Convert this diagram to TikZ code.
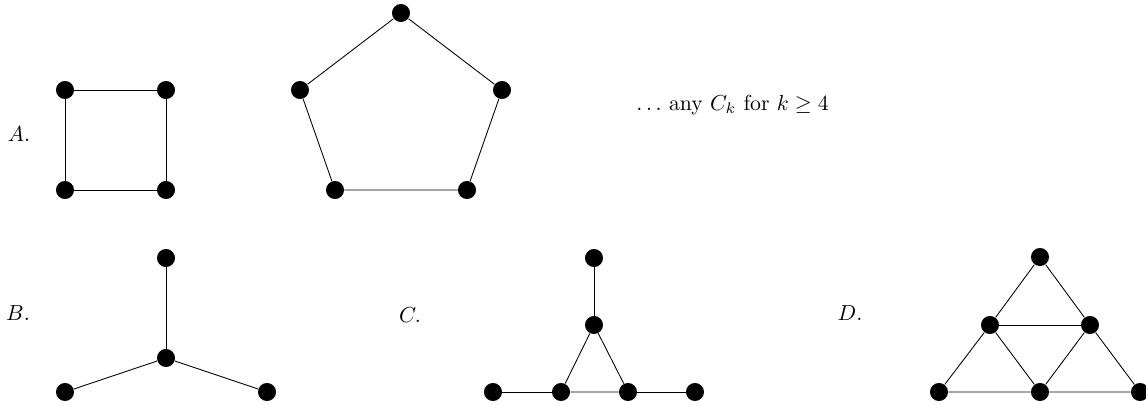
\documentclass[tikz,border=0pt]{standalone}
\tikzset{
  vtx/.style={circle,fill=black,inner sep=0pt,minimum size=8.3pt},
  lbl/.style={inner sep=0pt}
}
\begin{document}
\begin{tikzpicture}[x=0.46pt,y=-0.46pt]
\useasboundingbox (0,0) rectangle (1146,404);

% A: square and pentagon
\node[lbl] (la) at (19,134) {$A.$};
\node[vtx] (s1) at (65,90) {};
\node[vtx] (s2) at (166,90) {};
\node[vtx] (s3) at (166,190) {};
\node[vtx] (s4) at (65,190) {};
\draw (s1) -- (s2) -- (s3) -- (s4) -- (s1);

\node[vtx] (p1) at (401,13) {};
\node[vtx] (p2) at (502,90) {};
\node[vtx] (p3) at (467,190) {};
\node[vtx] (p4) at (335,190) {};
\node[vtx] (p5) at (300,90) {};
\draw (p1) -- (p2) -- (p3) -- (p4) -- (p5) -- (p1);

\node[lbl,anchor=west] (any) at (636,105) {$\ldots$ any $C_k$ for $k \geq 4$};

% B: claw
\node[lbl] (lb) at (18,313) {$B.$};
\node[vtx] (b0) at (166,358) {};
\node[vtx] (b1) at (166,258) {};
\node[vtx] (b2) at (65,392) {};
\node[vtx] (b3) at (267,392) {};
\draw (b0) -- (b1);
\draw (b0) -- (b2);
\draw (b0) -- (b3);

% C: net
\node[lbl] (lc) at (410,315) {$C.$};
\node[vtx] (c1) at (594,258) {};
\node[vtx] (c2) at (594,325) {};
\node[vtx] (c3) at (493,392) {};
\node[vtx] (c4) at (561,392) {};
\node[vtx] (c5) at (628,392) {};
\node[vtx] (c6) at (695,392) {};
\draw (c1) -- (c2);
\draw (c2) -- (c4) -- (c5) -- (c2);
\draw (c3) -- (c4);
\draw (c5) -- (c6);

% D: triangle of triangles
\node[lbl] (ld) at (850,313) {$D.$};
\node[vtx] (d1) at (1040,257) {};
\node[vtx] (d2) at (990,325) {};
\node[vtx] (d3) at (1090,325) {};
\node[vtx] (d4) at (939,392) {};
\node[vtx] (d5) at (1040,392) {};
\node[vtx] (d6) at (1140,392) {};
\draw (d1) -- (d2) -- (d4) -- (d5) -- (d6) -- (d3) -- (d1);
\draw (d2) -- (d3);
\draw (d2) -- (d5) -- (d3);
\end{tikzpicture}
\end{document}
